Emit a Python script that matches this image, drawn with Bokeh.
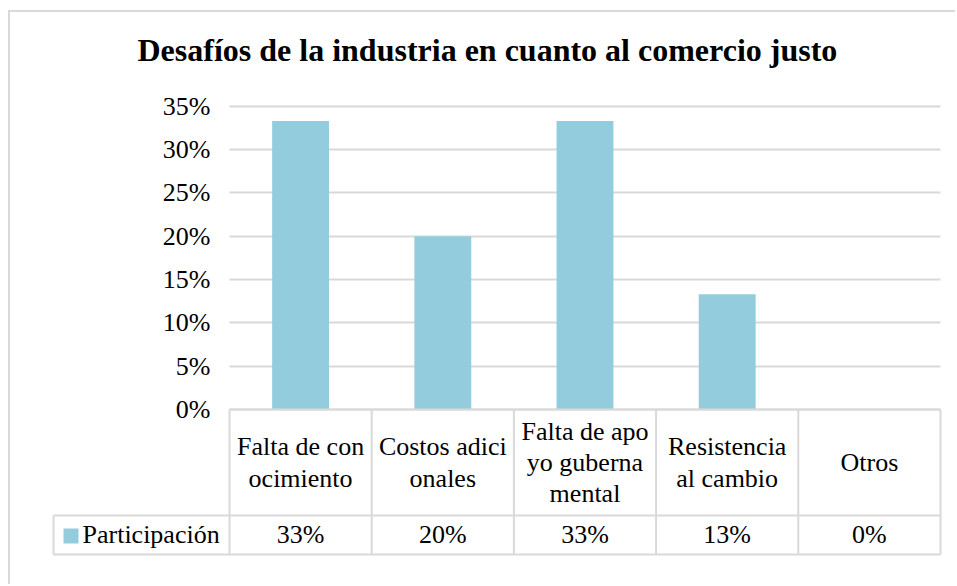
from bokeh.plotting import figure
from bokeh.models import Range1d, FixedTicker, NumeralTickFormatter, Title
from bokeh.layouts import column
from bokeh.embed import file_html
from bokeh.resources import INLINE
from bokeh.core.properties import value

# ---------------- data ----------------
title_text = "Desafíos de la industria en cuanto al comercio justo"
categories = ["Falta de conocimiento", "Costos adicionales", "Falta de apoyo gubernamental",
              "Resistencia al cambio", "Otros"]
category_labels = ["Falta de con\nocimiento", "Costos adici\nonales", "Falta de apo\nyo guberna\nmental",
                   "Resistencia\nal cambio", "Otros"]
series_name = "Participación"
participacion = [33.3, 20.0, 33.3, 13.3, 0.0]          # percent
table_labels = ["33%", "20%", "33%", "13%", "0%"]
y_ticks = [0, 5, 10, 15, 20, 25, 30, 35]                # percent

# ---------------- style / geometry (pixels) ----------------
FONT = "'Liberation Serif', 'Times New Roman', Tinos, serif"
BAR = "#93CDDD"
GRID = "#D9D9D9"
W, H = 945, 572
COL_PX = 142.2
PX_UNIT = 866.6
X0_PX = 219
Y0_PX = 397
FL, FR, FT, FB = 41, 932, 88, 544
ROW_MID_PX, ROW_BOT_PX = 106, 145
LEG_CELL_PX = 176

n = len(categories)
to_x = lambda px: (px - X0_PX) / COL_PX
to_y = lambda px: -(px - Y0_PX) / PX_UNIT

p = figure(width=W, height=H,
           x_range=Range1d(to_x(FL), to_x(FR)),
           y_range=Range1d(to_y(FB), to_y(FT)),
           x_axis_location=None, output_backend="svg", toolbar_location=None,
           min_border_left=FL, min_border_right=W - FR,
           min_border_top=FT, min_border_bottom=H - FB)
p.outline_line_color = None
p.background_fill_color = "white"
p.border_fill_color = "white"
p.title.visible = False

spacer = Title(text=" ", text_font_size="1px", standoff=30)
p.add_layout(spacer, "above")
title = Title(text=title_text, text_font=FONT, text_font_style="bold", text_font_size="32px",
              text_color="black", align="left", offset=86, standoff=0)
p.add_layout(title, "above")

ticker = FixedTicker(ticks=[t / 100 for t in y_ticks])
ax = p.yaxis[0]
ax.ticker = ticker
ax.formatter = NumeralTickFormatter(format="0%")
ax.axis_line_color = None
ax.major_tick_line_color = None
ax.minor_tick_line_color = None
ax.major_tick_out = 0
ax.major_tick_in = 0
ax.major_label_standoff = -(X0_PX - 19 - FL)
ax.major_label_text_font = FONT
ax.major_label_text_font_size = "26px"
ax.major_label_text_color = "black"

p.xgrid.visible = False
p.ygrid.ticker = ticker
p.ygrid.grid_line_color = GRID
p.ygrid.grid_line_width = 2
p.ygrid.cross_bounds = (0, n)

centers = [i + 0.5 for i in range(n)]
p.vbar(x=centers, top=[v / 100 for v in participacion], bottom=0, width=0.4,
       fill_color=BAR, line_color=None)

# ---------------- data table ----------------
y_top, y_mid, y_bot = 0.0, to_y(Y0_PX + ROW_MID_PX), to_y(Y0_PX + ROW_BOT_PX)
leg_left = -LEG_CELL_PX / COL_PX
xs0, ys0, xs1, ys1 = [], [], [], []
for i in range(n + 1):
    xs0.append(i); ys0.append(y_top); xs1.append(i); ys1.append(y_bot)
xs0.append(leg_left); ys0.append(y_mid); xs1.append(leg_left); ys1.append(y_bot)
xs0.append(0); ys0.append(y_top); xs1.append(n); ys1.append(y_top)
xs0.append(leg_left); ys0.append(y_mid); xs1.append(n); ys1.append(y_mid)
xs0.append(leg_left); ys0.append(y_bot); xs1.append(n); ys1.append(y_bot)
p.segment(x0=xs0, y0=ys0, x1=xs1, y1=ys1, line_color=GRID, line_width=2)

p.text(x=centers, y=[(y_top + y_mid) / 2] * n, text=category_labels,
       text_align="center", text_baseline="middle", text_font=value(FONT),
       text_font_size="26px", text_color="black", text_line_height=1.08)
row2 = (y_mid + y_bot) / 2 + 1 / PX_UNIT
p.text(x=centers, y=[row2] * n, text=table_labels,
       text_align="center", text_baseline="middle", text_font=value(FONT),
       text_font_size="26px", text_color="black")
p.text(x=[leg_left + 29 / COL_PX], y=[row2], text=[series_name],
       text_align="left", text_baseline="middle", text_font=value(FONT),
       text_font_size="26px", text_color="black")
p.scatter(x=[leg_left + 17.5 / COL_PX], y=[row2 - 2 / PX_UNIT], marker="square", size=15,
          fill_color=BAR, line_color=None)

layout = column(p, styles={"border-left": f"2px solid {GRID}", "border-top": f"2px solid {GRID}",
                           "margin-left": "8px", "margin-top": "10px"})

open("out.html", "w").write(file_html(layout, INLINE))
